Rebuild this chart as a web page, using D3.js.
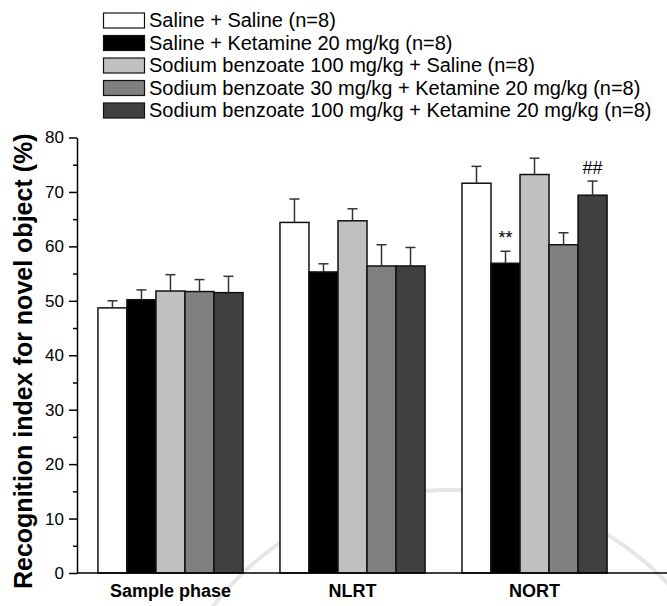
<!DOCTYPE html>
<html>
<head>
<meta charset="utf-8">
<script src="https://cdn.jsdelivr.net/npm/d3@7"></script>
<style>
  html, body { margin: 0; padding: 0; background: #fff; }
  svg { display: block; }
  text { font-family: "Liberation Sans", Arial, sans-serif; }
</style>
</head>
<body>
<svg id="chart" width="667" height="606"></svg>
<script>
// Test phases along the x axis
const phases = ["Sample phase", "NLRT", "NORT"];

// Treatment groups
const groups = [
  "Saline + Saline (n=8)",
  "Saline + Ketamine 20 mg/kg (n=8)",
  "Sodium benzoate 100 mg/kg + Saline (n=8)",
  "Sodium benzoate 30 mg/kg + Ketamine 20 mg/kg (n=8)",
  "Sodium benzoate 100 mg/kg + Ketamine 20 mg/kg (n=8)"
];
const fills = ["#ffffff", "#000000", "#c0c0c0", "#808080", "#404040"];

// Mean recognition index (%) per group, one value per phase
const salineSaline = [48.7, 64.4, 71.6];
const salineKetamine = [50.2, 55.3, 56.9];
const sb100Saline = [51.8, 64.7, 73.2];
const sb30Ketamine = [51.7, 56.4, 60.3];
const sb100Ketamine = [51.5, 56.4, 69.4];

// SEM per group, one value per phase
const semSalineSaline = [1.3, 4.3, 3.1];
const semSalineKetamine = [1.8, 1.5, 2.2];
const semSb100Saline = [3.0, 2.2, 3.0];
const semSb30Ketamine = [2.2, 3.9, 2.2];
const semSb100Ketamine = [3.0, 3.4, 2.6];

// Y axis ticks
const yMajorTicks = [0, 10, 20, 30, 40, 50, 60, 70, 80];
const yMinorTicks = [5, 15, 25, 35, 45, 55, 65, 75];

// Significance marks
const marks = [
  { phase: "NORT", group: 1, text: "**" },
  { phase: "NORT", group: 4, text: "##" }
];

const means = [salineSaline, salineKetamine, sb100Saline, sb30Ketamine, sb100Ketamine];
const sems = [semSalineSaline, semSalineKetamine, semSb100Saline, semSb30Ketamine, semSb100Ketamine];

const rows = [];
phases.forEach((p, pi) => {
  groups.forEach((g, gi) => {
    rows.push({ phase: p, group: gi, mean: means[gi][pi], sem: sems[gi][pi] });
  });
});

const svg = d3.select("#chart");
const axisX = 77, axisY = 573, plotTop = 137.5;

// Faint seal ring in the page background
svg.append("circle").attr("cx", 450).attr("cy", 790).attr("r", 300)
  .attr("fill", "none").attr("stroke", "#e6e6e6").attr("stroke-width", 4);

const x0 = d3.scaleBand().domain(phases).range([axisX, 628])
  .paddingInner(0.203).paddingOuter(0.115);
const x1 = d3.scaleBand().domain(d3.range(groups.length))
  .range([0, x0.bandwidth()]).padding(0);
const y = d3.scaleLinear().domain([0, 80]).range([axisY, plotTop]);

// Bars
const bars = svg.append("g");
bars.selectAll("rect").data(rows).join("rect")
  .attr("x", d => x0(d.phase) + x1(d.group))
  .attr("y", d => y(d.mean))
  .attr("width", x1.bandwidth())
  .attr("height", d => y(0) - y(d.mean))
  .attr("fill", d => fills[d.group])
  .attr("stroke", "#111")
  .attr("stroke-width", 1.5);

// Error bars (upper half)
const capW = 10;
const eb = svg.append("g").attr("stroke", "#333").attr("stroke-width", 1.5);
rows.forEach(d => {
  const cx = x0(d.phase) + x1(d.group) + x1.bandwidth() / 2;
  eb.append("line").attr("x1", cx).attr("x2", cx)
    .attr("y1", y(d.mean)).attr("y2", y(d.mean + d.sem));
  eb.append("line").attr("x1", cx - capW / 2).attr("x2", cx + capW / 2)
    .attr("y1", y(d.mean + d.sem)).attr("y2", y(d.mean + d.sem));
});

// Significance marks
marks.forEach(m => {
  const r = rows.find(d => d.phase === m.phase && d.group === m.group);
  svg.append("text")
    .attr("x", x0(m.phase) + x1(m.group) + x1.bandwidth() / 2)
    .attr("y", y(r.mean + r.sem) - 7)
    .attr("text-anchor", "middle")
    .attr("font-size", 18)
    .text(m.text);
});

// Y axis
const yAxis = svg.append("g").attr("transform", `translate(${axisX},0)`)
  .call(d3.axisLeft(y).tickValues(yMajorTicks).tickSize(8).tickPadding(5).tickSizeOuter(0));
yAxis.selectAll("text").attr("font-size", 17).attr("fill", "#000")
  .style("font-family", "'Liberation Sans', Arial, sans-serif");
yAxis.selectAll("line").attr("stroke", "#000").attr("stroke-width", 1.5);
yAxis.select(".domain").attr("stroke", "#000").attr("stroke-width", 1.5);
const yMinor = svg.append("g").attr("transform", `translate(${axisX},0)`)
  .call(d3.axisLeft(y).tickValues(yMinorTicks).tickSize(4).tickFormat("").tickSizeOuter(0));
yMinor.select(".domain").remove();
yMinor.selectAll("line").attr("stroke", "#000").attr("stroke-width", 1.5);

// X axis
const xAxis = svg.append("g").attr("transform", `translate(0,${axisY})`)
  .call(d3.axisBottom(x0).tickSize(0).tickPadding(11).tickSizeOuter(0));
xAxis.select(".domain").attr("d", `M${axisX},0H667`).attr("stroke", "#000").attr("stroke-width", 1.5);
xAxis.selectAll("text").attr("font-size", 18).attr("font-weight", "bold").attr("fill", "#000")
  .style("font-family", "'Liberation Sans', Arial, sans-serif");

// Y axis title
svg.append("text")
  .attr("transform", `translate(32,${(plotTop + axisY) / 2 + 6}) rotate(-90)`)
  .attr("text-anchor", "middle")
  .attr("font-size", 25)
  .attr("font-weight", "bold")
  .text("Recognition index for novel object (%)");

// Legend
const legend = svg.append("g");
groups.forEach((g, i) => {
  const rowY = 13 + i * 22.5;
  legend.append("rect").attr("x", 103.5).attr("y", rowY).attr("width", 41).attr("height", 15)
    .attr("fill", fills[i]).attr("stroke", "#111").attr("stroke-width", 1.2);
  legend.append("text").attr("x", 149).attr("y", rowY + 14)
    .attr("font-size", 20).text(g);
});
</script>
</body>
</html>
